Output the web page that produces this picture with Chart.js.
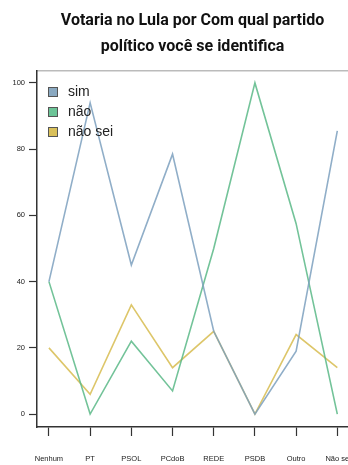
<!DOCTYPE html>
<html>
<head>
<meta charset="utf-8">
<script src="https://cdn.jsdelivr.net/npm/chart.js@4"></script>
<style>
  html, body { margin: 0; padding: 0; background: #fff; }
  #wrap { position: relative; width: 348px; height: 465px; }
  #title {
    position: absolute; left: 37px; width: 311px; top: 7px;
    text-align: center; font: bold 16px Roboto, "Liberation Sans", sans-serif;
    line-height: 26px; color: #111;
  }
  #legend {
    position: absolute; left: 48px; top: 81px;
    font: 14px "Liberation Sans", sans-serif; color: #222;
  }
  #legend div { height: 20px; line-height: 20px; white-space: nowrap; }
  #legend span {
    display: inline-block; width: 8px; height: 8px; border: 1px solid #555;
    margin-right: 10px; vertical-align: -1px;
  }
</style>
</head>
<body>
<div id="wrap">
  <canvas id="myChart" width="348" height="465"></canvas>
  <div id="title">Votaria no Lula por Com qual partido<br>político você se identifica</div>
  <div id="legend"></div>
</div>
<script>
// categories and values
const partidos = ['Nenhum', 'PT', 'PSOL', 'PCdoB', 'REDE', 'PSDB', 'Outro', 'Não se']
const sim = [40, 94, 45, 78.5, 25, 0, 19, 85.5]
const nao = [40, 0, 22, 7, 50, 100, 57.5, 0]
const naoSei = [20, 6, 33, 14, 25, 0, 24, 14]
const yTicks = [0, 20, 40, 60, 80, 100]

function pts(arr) {
  return arr.map(function (v, i) { return { x: i, y: v } })
}

var ctx = document.getElementById('myChart').getContext('2d');

var myChart = new Chart(ctx, {
  type: 'line',
  data: {
    datasets: [
      { label: 'sim', data: pts(sim), borderColor: 'rgba(125,160,190,0.85)', backgroundColor: '#8aa9c1' },
      { label: 'não', data: pts(nao), borderColor: 'rgba(90,185,135,0.85)', backgroundColor: '#6cc497' },
      { label: 'não sei', data: pts(naoSei), borderColor: 'rgba(215,188,80,0.85)', backgroundColor: '#d9c05a' }
    ]
  },
  options: {
    responsive: false,
    animation: false,
    layout: { padding: { top: 71, left: 0, right: 0, bottom: 0 } },
    elements: {
      point: { radius: 0 },
      line: { borderWidth: 1.6, tension: 0 }
    },
    plugins: {
      title: { display: false },
      tooltip: { enabled: false },
      legend: { display: false }
    },
    scales: {
      x: {
        type: 'linear',
        min: -0.29,
        max: 7.24,
        afterFit: function (s) { s.height = 38; s.paddingLeft = 0; s.paddingRight = 0 },
        afterBuildTicks: function (s) {
          s.ticks = partidos.map(function (p, i) { return { value: i } })
        },
        ticks: {
          padding: 18,
          color: '#222',
          font: { family: 'Liberation Sans', size: 7.5 },
          maxRotation: 0,
          autoSkip: false,
          callback: function (v) { return partidos[v] }
        },
        grid: { drawOnChartArea: false, tickLength: 9, tickColor: '#333', tickWidth: 1.2 },
        border: { color: '#333', width: 1.5 }
      },
      xTop: {
        type: 'linear',
        position: 'top',
        min: 0,
        max: 1,
        afterFit: function (s) { s.height = 0 },
        ticks: { display: false },
        grid: { display: false },
        border: { color: '#bbb', width: 1.5 }
      },
      y: {
        min: -3.9,
        max: 103.6,
        afterFit: function (s) { s.width = 37; s.paddingTop = 0; s.paddingBottom = 0 },
        afterBuildTicks: function (s) {
          s.ticks = yTicks.map(function (v) { return { value: v } })
        },
        ticks: {
          padding: 4,
          color: '#222',
          font: { family: 'Liberation Sans', size: 7.5 }
        },
        grid: { drawOnChartArea: false, tickLength: 8, tickColor: '#333', tickWidth: 1.2 },
        border: { color: '#333', width: 1.5 }
      }
    }
  }
});

myChart.update()

// legend built from the chart's datasets
$legend = document.getElementById('legend')
myChart.data.datasets.forEach(function (ds) {
  var row = document.createElement('div')
  var box = document.createElement('span')
  box.style.background = ds.backgroundColor
  row.appendChild(box)
  row.appendChild(document.createTextNode(ds.label))
  $legend.appendChild(row)
})
</script>
</body>
</html>
